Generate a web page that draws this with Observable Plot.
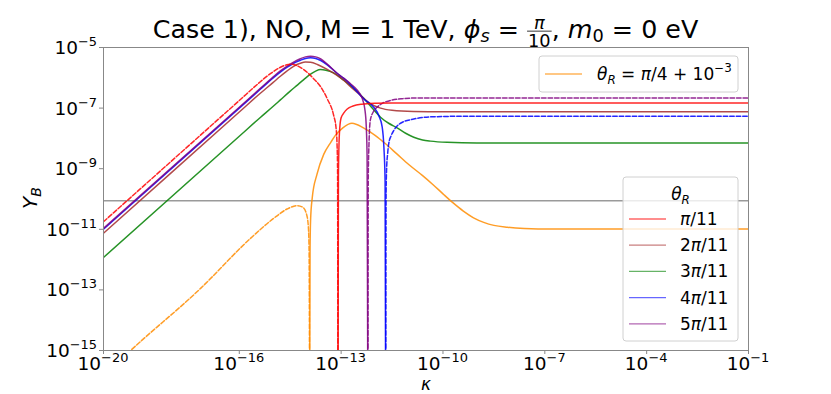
<!DOCTYPE html>
<html><head><meta charset="utf-8">
<script src="https://cdn.jsdelivr.net/npm/d3@7"></script>
<script src="https://cdn.jsdelivr.net/npm/@observablehq/plot@0.6"></script>
<style>body{margin:0;background:#fff;} svg text{font-family:"DejaVu Sans";}</style>
</head><body><div id="chart"></div>
<script>
// ---- tick values ----
const xTicks = [1e-20, 1e-16, 1e-13, 1e-10, 1e-7, 1e-4, 1e-1];
const yTicks = [1e-15, 1e-13, 1e-11, 1e-9, 1e-7, 1e-5];
const yObserved = 8.7e-11;

// ---- legend labels ----
const thetaLabels = ["π/11", "2π/11", "3π/11", "4π/11", "5π/11"];
const extraLabel = "π/4 + 10";

// ---- series values: log10(kappa), log10(|Y_B|) ----
const pi11NegLogK = [-20, -16, -15.38, -15.2, -15.0, -14.8, -14.6, -14.45, -14.3, -14.10, -13.81, -13.6, -13.41, -13.22, -13.15, -13.12, -13.105, -13.095];
const pi11NegLogY = [-10.75, -6.75, -6.13, -5.96, -5.80, -5.66, -5.57, -5.55, -5.60, -5.73, -6.03, -6.30, -6.69, -7.24, -7.65, -8.2, -9.0, -16];
const pi11PosLogK = [-13.09, -13.08, -13.065, -13.04, -13.0, -12.92, -12.82, -12.65, -12.4, -12.0, -11.5, -10.5, -1];
const pi11PosLogY = [-16, -9.3, -8.3, -7.65, -7.32, -7.16, -7.03, -6.93, -6.87, -6.84, -6.83, -6.83, -6.83];

const pi2PosLogK = [-20, -16, -15.38, -15.0, -14.79, -14.6, -14.4, -14.2, -14.05, -13.9, -13.7, -13.41, -13.12, -12.92, -12.7, -12.43, -12.33, -12.14, -11.84, -11.5, -10.87, -10, -1];
const pi2PosLogY = [-11.13, -7.13, -6.51, -6.15, -5.95, -5.78, -5.62, -5.52, -5.48, -5.49, -5.56, -5.72, -5.92, -6.09, -6.32, -6.58, -6.68, -6.85, -7.00, -7.07, -7.11, -7.12, -7.12];

const pi3PosLogK = [-20, -16, -15.38, -15.0, -14.79, -14.5, -14.3, -14.1, -13.9, -13.75, -13.61, -13.45, -13.22, -12.92, -12.53, -12.33, -12.1, -11.84, -11.6, -11.35, -11.1, -10.86, -10.6, -10.37, -9.88, -9, -1];
const pi3PosLogY = [-11.93, -7.93, -7.31, -6.94, -6.73, -6.44, -6.25, -6.06, -5.88, -5.78, -5.73, -5.75, -5.84, -6.08, -6.45, -6.68, -6.98, -7.30, -7.50, -7.65, -7.83, -7.96, -8.05, -8.09, -8.13, -8.15, -8.15];

const pi4PosLogK = [-20, -16, -15.38, -15.0, -14.8, -14.6, -14.4, -14.2, -14.05, -13.9, -13.75, -13.6, -13.4, -13.12, -12.92, -12.7, -12.43, -12.33, -12.04, -11.89, -11.79, -11.74, -11.705, -11.69];
const pi4PosLogY = [-11.0, -7.0, -6.38, -6.0, -5.82, -5.66, -5.52, -5.42, -5.36, -5.34, -5.36, -5.43, -5.58, -5.85, -6.02, -6.25, -6.58, -6.70, -6.97, -7.25, -7.63, -8.3, -9.4, -16];
const pi4NegLogK = [-11.685, -11.675, -11.66, -11.63, -11.60, -11.53, -11.45, -11.25, -10.86, -10.37, -9.5, -1];
const pi4NegLogY = [-16, -9.8, -9.0, -8.5, -8.19, -7.92, -7.74, -7.50, -7.36, -7.29, -7.27, -7.27];

const pi5PosLogK = [-20, -16, -15.38, -15.0, -14.8, -14.6, -14.4, -14.2, -14.05, -13.9, -13.75, -13.6, -13.41, -13.12, -12.92, -12.7, -12.53, -12.38, -12.30, -12.26, -12.235, -12.215];
const pi5PosLogY = [-10.97, -6.97, -6.35, -5.97, -5.78, -5.62, -5.48, -5.37, -5.31, -5.29, -5.31, -5.38, -5.55, -5.85, -6.02, -6.22, -6.40, -6.68, -7.05, -7.6, -8.6, -16];
const pi5NegLogK = [-12.21, -12.2, -12.18, -12.14, -12.05, -11.94, -11.8, -11.55, -11.2, -10.86, -10, -1];
const pi5NegLogY = [-16, -9.2, -8.2, -7.4, -7.12, -6.97, -6.85, -6.75, -6.69, -6.67, -6.67, -6.67];

const extraNegLogK = [-20, -19.2, -17.14, -15.67, -15.0, -14.59, -14.29, -14.12, -14.02, -13.97, -13.945, -13.93];
const extraNegLogY = [-15.85, -15.0, -12.95, -11.3, -10.65, -10.33, -10.22, -10.28, -10.5, -10.85, -11.6, -16];
const extraPosLogK = [-13.925, -13.915, -13.9, -13.85, -13.71, -13.51, -13.3, -13.17, -12.95, -12.68, -12.33, -12.0, -11.7, -11.35, -11.0, -10.6, -10.3, -10.0, -9.7, -9.4, -9.1, -8.8, -8.5, -8.1, -7.6, -6.8, -1];
const extraPosLogY = [-16, -11.6, -10.7, -9.95, -9.18, -8.52, -8.12, -7.90, -7.65, -7.50, -7.66, -7.90, -8.17, -8.52, -8.87, -9.23, -9.52, -9.83, -10.13, -10.40, -10.62, -10.77, -10.87, -10.93, -10.97, -10.99, -10.99];

// ---- series table ----
const series = [
  {id: "extra-neg", group: "extra", sign: "neg", k: extraNegLogK, y: extraNegLogY},
  {id: "extra-pos", group: "extra", sign: "pos", k: extraPosLogK, y: extraPosLogY},
  {id: "pi3-pos", group: "3π/11", sign: "pos", k: pi3PosLogK, y: pi3PosLogY},
  {id: "pi2-pos", group: "2π/11", sign: "pos", k: pi2PosLogK, y: pi2PosLogY},
  {id: "pi4-pos", group: "4π/11", sign: "pos", k: pi4PosLogK, y: pi4PosLogY},
  {id: "pi4-neg", group: "4π/11", sign: "neg", k: pi4NegLogK, y: pi4NegLogY},
  {id: "pi5-pos", group: "5π/11", sign: "pos", k: pi5PosLogK, y: pi5PosLogY},
  {id: "pi5-neg", group: "5π/11", sign: "neg", k: pi5NegLogK, y: pi5NegLogY},
  {id: "pi1-neg", group: "π/11", sign: "neg", k: pi11NegLogK, y: pi11NegLogY},
  {id: "pi1-pos", group: "π/11", sign: "pos", k: pi11PosLogK, y: pi11PosLogY}
];
const colors = {"π/11": "#ff0000", "2π/11": "#a52a2a", "3π/11": "#008000", "4π/11": "#0000ff", "5π/11": "#800080", "extra": "#ff8c00"};

const rows = series.flatMap(s => s.k.map((lk, i) => ({id: s.id, k: 10 ** lk, y: 10 ** s.y[i]})));

const chart = Plot.plot({
  width: 831, height: 394,
  marginLeft: 103, marginRight: 83, marginTop: 47, marginBottom: 44,
  style: {fontFamily: "DejaVu Sans", background: "white", overflow: "visible"},
  x: {type: "log", domain: [1e-20, 1e-1]},
  y: {type: "log", domain: [1e-15, 1e-5]},
  marks: [
    Plot.ruleY([yObserved], {stroke: "#9a9a9a", strokeWidth: 1.5}),
    ...series.map(s => Plot.line(rows.filter(r => r.id === s.id), {
      x: "k", y: "y", stroke: colors[s.group], strokeWidth: 1.5, strokeOpacity: 0.85,
      strokeDasharray: s.sign === "neg" ? "4.5,2" : null, curve: "monotone-x", clip: true
    })),
    Plot.frame({stroke: "#888", strokeWidth: 1}),
    Plot.axisX({ticks: xTicks, tickSize: 4, tickFormat: () => "", label: null, stroke: "#888"}),
    Plot.axisY({ticks: yTicks, tickSize: 4, tickFormat: () => "", label: null, stroke: "#888"})
  ]
});
document.getElementById("chart").append(chart);

const svg = d3.select(chart);
const sx = chart.scale("x"), sy = chart.scale("y");

// rich text helper: parts {t, it, scale, shift, frac:[num,den]}
function rich(parent, x, y, parts, size, anchor, rotate) {
  const outer = parent.append("g").attr("transform", `translate(${x},${y})` + (rotate ? ` rotate(${rotate})` : ""));
  const inner = outer.append("g");
  let cx = 0;
  const mk = () => inner.append("text").attr("text-anchor", "start").attr("fill", "#000").style("white-space", "pre");
  for (const p of parts) {
    if (p.frac) {
      const fs = size * 0.7;
      const a = mk().attr("y", -size * 0.36).attr("font-size", fs).attr("font-style", "italic").text(p.frac[0]);
      const b = mk().attr("y", size * 0.36).attr("font-size", fs).text(p.frac[1]);
      const wa = a.node().getComputedTextLength(), wb = b.node().getComputedTextLength();
      const w = Math.max(wa, wb) + 2;
      a.attr("x", cx + (w - wa) / 2); b.attr("x", cx + (w - wb) / 2);
      inner.append("line").attr("x1", cx).attr("x2", cx + w).attr("y1", -size * 0.27).attr("y2", -size * 0.27).attr("stroke", "#000").attr("stroke-width", 0.8);
      cx += w;
      continue;
    }
    const t = mk().attr("x", cx).attr("y", -(p.shift || 0))
      .attr("font-size", size * (p.scale || 1))
      .attr("font-style", p.it ? "italic" : null).text(p.t);
    cx += t.node().getComputedTextLength();
  }
  const off = anchor === "middle" ? -cx / 2 : anchor === "end" ? -cx : 0;
  inner.attr("transform", `translate(${off},0)`);
  return {g: outer, w: cx};
}
const sup = e => [{t: "10"}, {t: "−" + Math.abs(e), scale: 0.7, shift: 8}];
const withPi = lab => lab.split("π").flatMap((s, j, arr) => j < arr.length - 1 ? [{t: s}, {t: "π", it: true}] : [{t: s}]).filter(p => p.t !== "");

// tick labels
for (const v of xTicks) rich(svg, sx.apply(v), 369.5, sup(Math.round(Math.log10(v))), 18.5, "middle");
for (const v of yTicks) rich(svg, 97, sy.apply(v) + 7, sup(Math.round(Math.log10(v))), 18.5, "end");

// axis labels
rich(svg, 426, 389.5, [{t: "κ", it: true}], 17, "middle");
rich(svg, 37, 198, [{t: "Y", it: true}, {t: "B", it: true, scale: 0.7, shift: -4}], 20, "middle", -90);

// title
const titleParts = [
  {t: "Case 1), NO, M = 1 TeV, "}, {t: "ϕ", it: true}, {t: "s", it: true, scale: 0.7, shift: -4},
  {t: " = "}, {frac: ["π", "10"]}, {t: ", "}, {t: "m", it: true}, {t: "0", scale: 0.7, shift: -4}, {t: " = 0 eV"}
];
let tt = rich(svg, 425.5, 38, titleParts, 22, "middle");
const fitSize = 22 * 546 / tt.w;
tt.g.remove();
rich(svg, 425.5, 38, titleParts, fitSize, "middle");

// legend 1 (extra curve)
const L1 = svg.append("g");
L1.append("rect").attr("x", 539).attr("y", 56).attr("width", 199).attr("height", 36).attr("rx", 3)
  .attr("fill", "white").attr("fill-opacity", 0.8).attr("stroke", "#d0d0d0");
L1.append("line").attr("x1", 545).attr("x2", 582).attr("y1", 74).attr("y2", 74).attr("stroke", colors.extra).attr("stroke-opacity", 0.65).attr("stroke-width", 1.3);
rich(L1, 597, 80, [{t: "θ", it: true}, {t: "R", it: true, scale: 0.7, shift: -4}, {t: " = "}, ...withPi(extraLabel), {t: "−3", scale: 0.7, shift: 8}], 17, "start");

// legend 2 (theta_R)
const L2 = svg.append("g");
L2.append("rect").attr("x", 623).attr("y", 177).attr("width", 115).attr("height", 164).attr("rx", 3)
  .attr("fill", "white").attr("fill-opacity", 0.8).attr("stroke", "#d0d0d0");
rich(L2, 680.5, 200, [{t: "θ", it: true}, {t: "R", it: true, scale: 0.7, shift: -4}], 17, "middle");
const legendGroups = ["π/11", "2π/11", "3π/11", "4π/11", "5π/11"];
thetaLabels.forEach((lab, i) => {
  const yy = 219 + i * 26.2;
  L2.append("line").attr("x1", 629).attr("x2", 666).attr("y1", yy).attr("y2", yy)
    .attr("stroke", colors[legendGroups[i]]).attr("stroke-opacity", 0.6).attr("stroke-width", 1.3);
  rich(L2, 680, yy + 6, withPi(lab), 17, "start");
});
</script>
</body></html>
